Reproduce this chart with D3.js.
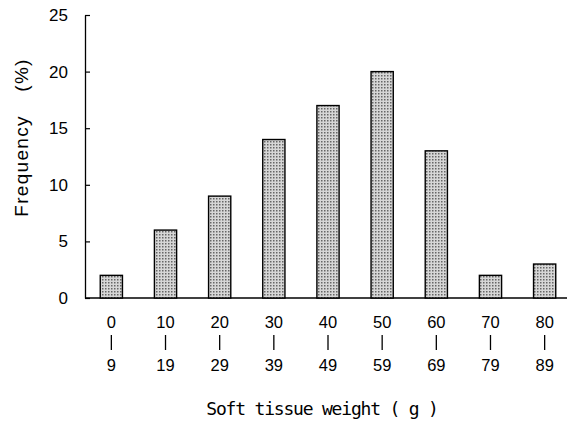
<!DOCTYPE html>
<html>
<head>
<meta charset="utf-8">
<script src="https://cdn.jsdelivr.net/npm/d3@7"></script>
<style>
  body { margin: 0; background: #fff; }
  svg { display: block; }
</style>
</head>
<body>
<svg id="chart"></svg>
<script>
// data
const binStart = ["0", "10", "20", "30", "40", "50", "60", "70", "80"];
const binEnd = ["9", "19", "29", "39", "49", "59", "69", "79", "89"];
const frequency = [2, 6, 9, 14, 17, 20, 13, 2, 3];
const yTicks = [0, 5, 10, 15, 20, 25];

const width = 567;
const height = 427;

const svg = d3.select('#chart')
    .attr('width', width)
    .attr('height', height);

// stipple fill for the bars
const defs = svg.append('defs');
const pat = defs.append('pattern')
    .attr('id', 'dots')
    .attr('patternUnits', 'userSpaceOnUse')
    .attr('width', 3)
    .attr('height', 3);
pat.append('rect').attr('width', 3).attr('height', 3).attr('fill', '#d6d6d6');
pat.append('rect').attr('x', 0).attr('y', 0).attr('width', 1.5).attr('height', 1.5).attr('fill', '#666');

const x = d3.scaleBand()
    .domain(binStart)
    .range([84, 572])
    .paddingInner(0.59)
    .paddingOuter(0.3);

const y = d3.scaleLinear()
    .domain([0, 25])
    .range([298, 15]);

// y axis, ticks point inward
const yAxis = svg.append('g')
    .attr('transform', 'translate(85,0)')
    .call(d3.axisLeft(y).tickValues(yTicks).tickSize(-5).tickSizeOuter(0).tickPadding(17));
yAxis.select('.domain').attr('stroke', '#000').attr('stroke-width', 1.3);
yAxis.selectAll('.tick line').attr('stroke', '#000').attr('stroke-width', 1.2);
yAxis.selectAll('.tick text')
    .style('font-family', 'Liberation Sans, Arial, sans-serif')
    .style('font-size', '17px')
    .attr('fill', '#000');

// x axis line
svg.append('line')
    .attr('x1', 85).attr('x2', 567)
    .attr('y1', y(0)).attr('y2', y(0))
    .attr('stroke', '#000')
    .attr('stroke-width', 1.3);

// bars
svg.selectAll('rect.bar')
    .data(frequency)
    .enter()
    .append('rect')
    .attr('class', 'bar')
    .attr('x', (d, i) => x(binStart[i]))
    .attr('y', d => y(d))
    .attr('width', x.bandwidth())
    .attr('height', d => y(0) - y(d))
    .attr('fill', 'url(#dots)')
    .attr('stroke', '#000')
    .attr('stroke-width', 1.4);

// category labels: "start | end"
const labels = svg.selectAll('g.cat')
    .data(binStart)
    .enter()
    .append('g')
    .attr('class', 'cat')
    .attr('transform', d => 'translate(' + (x(d) + x.bandwidth() / 2) + ',0)')
    .style('font-family', 'Liberation Sans, Arial, sans-serif')
    .style('font-size', '16.5px')
    .attr('text-anchor', 'middle');
labels.append('text').attr('y', 328).text(d => d);
labels.append('line')
    .attr('x1', 0).attr('x2', 0)
    .attr('y1', 335).attr('y2', 350)
    .attr('stroke', '#000').attr('stroke-width', 1.3);
labels.append('text').attr('y', 371).text((d, i) => binEnd[i]);

// axis titles
svg.append('text')
    .attr('x', 322)
    .attr('y', 415)
    .attr('text-anchor', 'middle')
    .style('font-family', 'DejaVu Sans Mono, monospace')
    .style('font-size', '18px')
    .style('letter-spacing', '-1.2px')
    .text('Soft tissue weight ( g )');

svg.append('text')
    .attr('transform', 'translate(28,166) rotate(-90)')
    .attr('text-anchor', 'middle')
    .style('font-family', 'Liberation Sans, Arial, sans-serif')
    .style('font-size', '19px')
    .style('letter-spacing', '1.3px')
    .text('Frequency');

svg.append('text')
    .attr('transform', 'translate(28,75) rotate(-90)')
    .attr('text-anchor', 'middle')
    .style('font-family', 'Liberation Sans, Arial, sans-serif')
    .style('font-size', '19px')
    .style('letter-spacing', '1.3px')
    .text('(%)');
</script>
</body>
</html>
